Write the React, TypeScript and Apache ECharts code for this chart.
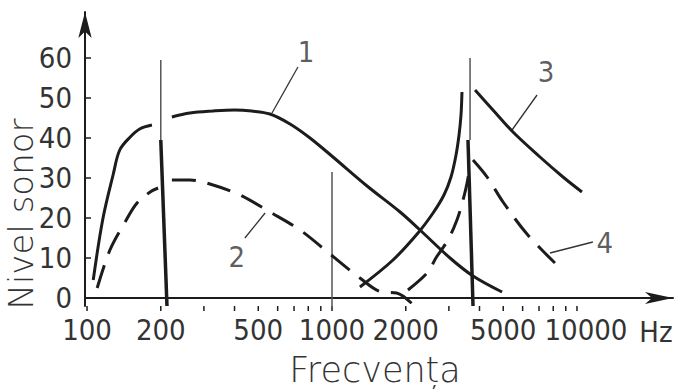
import React, { useEffect, useRef } from 'react';
import * as echarts from 'echarts';

// ---- axis ticks / labels (Hz, level) ----
const xTickValues = [100, 200, 300, 400, 500, 600, 700, 800, 900, 1000, 2000, 3000, 4000, 5000, 6000, 7000, 8000, 9000, 10000];
const xLabelValues = [100, 200, 500, 1000, 2000, 5000, 10000];
const yLabelValues = [0, 10, 20, 30, 40, 50, 60];
const yTickValues = [10, 20, 30, 40, 50, 60];
const xRangeHz = [98.1, 24660];
const yRange = [-2, 71.5];

// ---- curve 1 (solid) ----
const curve1Freq = [106, 116, 128, 136, 150, 164, 184, 200, 222, 263, 327, 400, 470, 558, 674, 813, 1009, 1390, 1896, 2287, 3032, 3764, 4946];
const curve1Level = [4.5, 19.75, 31, 37, 40.25, 42.25, 43.25, null, 45.25, 46.25, 46.75, 47, 46.75, 46, 43.5, 40, 35.25, 28, 21.5, 17, 10, 5.5, 1.5];

// ---- curve 2 (dashed) ----
const curve2Freq = [110, 124, 143, 160, 181, 195, 200, 222, 263, 327, 421, 558, 740, 981, 1300, 1600, 1836, 2127];
const curve2Level = [2.5, 12, 19, 23.75, 26.5, 27.5, null, 29.5, 29.5, 28.25, 25.75, 21.5, 17, 11, 5, 1.5, 1.25, -1.5];

// ---- curve 3 (solid) ----
const curve3Freq = [1300, 1774, 2244, 2585, 2864, 3060, 3208, 3300, 3362, 3393, 3600, 3837, 4540, 5480, 7063, 8770, 10480];
const curve3Level = [2.75, 9.5, 16.25, 21.25, 25.75, 30.25, 35.75, 40.75, 45.75, 51.5, null, 52, 47, 41.5, 35.25, 30.25, 26.5];

// ---- curve 4 (dashed) ----
const curve4Freq = [2042, 2466, 2655, 2972, 3236, 3426, 3559, 3660, 3700, 3763, 4295, 4991, 6252, 8131];
const curve4Level = [2, 6.5, 10, 14.5, 19.5, 24.5, 28.75, 33.25, null, 34.5, 30.25, 24, 16, 8.75];

// ---- vertical reference lines ----
const thinLineFreq = [[200, 200], [1000, 1000], [3660, 3660]];
const thinLineLevel = [[39.5, 59.5], [-2, 31.5], [39.5, 60]];
const thickLineFreq = [[200, 212], [3590, 3764]];
const thickLineLevel = [[39.5, -2], [39.5, -2]];

// ---- curve labels with leader lines ----
const labelText = ['1', '2', '3', '4'];
const labelFreq = [783, 409, 7470, 13000];
const labelLevel = [61.5, 10.25, 56.5, 13.75];
const leaderFromFreq = [726, 441, 6870, 11610];
const leaderFromLevel = [57.75, 15, 50.75, 14];
const leaderToFreq = [569, 533, 5430, 7760];
const leaderToLevel = [46.25, 21.25, 42, 11.25];

const INK = '#1c1c1c';
const TEXT = '#333333';
const DIGIT_FONT = "'Liberation Sans Narrow', 'DejaVu Sans Condensed', sans-serif";
const WORD_FONT = "'DejaVu Sans', sans-serif";
const LAST_LABEL_NUDGE = 9; // the hand-lettered "10000" sits right of its tick

const lg = (f: number) => Math.log10(f);
const pairs = (fs: number[], ls: (number | null)[]) =>
  fs.map((f, i) => [lg(f), ls[i] === null ? '-' : ls[i]]);

export default function App() {
  const ref = useRef<HTMLDivElement>(null);

  useEffect(() => {
    if (!ref.current) return;
    const chart = echarts.init(ref.current, undefined, { renderer: 'svg' });

    const curveSeries = (name: string, fs: number[], ls: (number | null)[], dashed: boolean) => ({
      name,
      type: 'line',
      data: pairs(fs, ls),
      symbol: 'none',
      smooth: 0.35,
      connectNulls: false,
      silent: true,
      lineStyle: { color: INK, width: 3, type: dashed ? [24, 12] : 'solid', cap: 'butt' },
      z: 3,
    });

    const series: any[] = [
      curveSeries('1', curve1Freq, curve1Level, false),
      curveSeries('2', curve2Freq, curve2Level, true),
      curveSeries('3', curve3Freq, curve3Level, false),
      curveSeries('4', curve4Freq, curve4Level, true),
    ];

    thinLineFreq.forEach((fs, i) => {
      series.push({
        type: 'line',
        data: pairs(fs, thinLineLevel[i]),
        symbol: 'none',
        silent: true,
        lineStyle: { color: '#555', width: 1.5 },
        z: 2,
      });
    });
    thickLineFreq.forEach((fs, i) => {
      series.push({
        type: 'line',
        data: pairs(fs, thickLineLevel[i]),
        symbol: 'none',
        silent: true,
        lineStyle: { color: INK, width: 3.5 },
        z: 2,
      });
    });
    labelText.forEach((_, i) => {
      series.push({
        type: 'line',
        data: [[lg(leaderFromFreq[i]), leaderFromLevel[i]], [lg(leaderToFreq[i]), leaderToLevel[i]]],
        symbol: 'none',
        silent: true,
        lineStyle: { color: '#333', width: 1.3 },
        z: 2,
      });
    });
    series.push({
      type: 'scatter',
      silent: true,
      symbolSize: 1,
      itemStyle: { color: 'rgba(0,0,0,0)' },
      data: labelText.map((t, i) => ({ name: t, value: [lg(labelFreq[i]), labelLevel[i]] })),
      label: {
        show: true,
        position: 'inside',
        formatter: '{b}',
        fontFamily: DIGIT_FONT,
        fontSize: 29,
        color: TEXT,
      },
      z: 4,
    });
    // x-axis tick marks (log positions) drawn through the axis scale
    series.push({
      type: 'custom',
      silent: true,
      clip: false,
      data: xTickValues.map((f) => [lg(f), yRange[0]]),
      renderItem: (_p: any, api: any) => {
        const c = api.coord([api.value(0), api.value(1)]);
        return {
          type: 'line',
          shape: { x1: c[0], y1: c[1], x2: c[0], y2: c[1] + 5 },
          style: { stroke: INK, lineWidth: 1.5 },
        };
      },
      z: 5,
    });
    // x-axis tick labels (log positions)
    series.push({
      type: 'custom',
      silent: true,
      clip: false,
      data: xLabelValues.map((f) => [lg(f), yRange[0]]),
      renderItem: (p: any, api: any) => {
        const c = api.coord([api.value(0), api.value(1)]);
        const nudge = p.dataIndex === xLabelValues.length - 1 ? LAST_LABEL_NUDGE : 0;
        return {
          type: 'text',
          x: c[0] + nudge,
          y: c[1] + 9,
          style: {
            text: String(xLabelValues[p.dataIndex]),
            fontFamily: DIGIT_FONT,
            fontSize: 29,
            fill: TEXT,
            align: 'center',
            verticalAlign: 'top',
          },
        };
      },
      z: 5,
    });
    // y-axis tick marks (inside)
    series.push({
      type: 'custom',
      silent: true,
      clip: false,
      data: yTickValues.map((v) => [lg(xRangeHz[0]), v]),
      renderItem: (_p: any, api: any) => {
        const c = api.coord([api.value(0), api.value(1)]);
        return {
          type: 'line',
          shape: { x1: c[0], y1: c[1], x2: c[0] + 6, y2: c[1] },
          style: { stroke: INK, lineWidth: 1.5 },
        };
      },
      z: 5,
    });

    chart.setOption({
      animation: false,
      backgroundColor: '#ffffff',
      grid: { left: 85, right: 4, top: 12, bottom: 83, containLabel: false },
      xAxis: {
        type: 'value',
        min: lg(xRangeHz[0]),
        max: lg(xRangeHz[1]),
        axisLine: {
          show: true,
          lineStyle: { color: INK, width: 2 },
          symbol: ['none', 'arrow'],
          symbolSize: [9, 28],
        },
        axisTick: { show: false },
        splitLine: { show: false },
        axisLabel: { show: false },
      },
      yAxis: {
        type: 'value',
        min: yRange[0],
        max: yRange[1],
        axisLine: {
          show: true,
          lineStyle: { color: INK, width: 2 },
          symbol: ['none', 'arrow'],
          symbolSize: [10, 26],
        },
        axisTick: { show: false },
        splitLine: { show: false },
        axisLabel: {
          customValues: yLabelValues,
          hideOverlap: false,
          margin: 13,
          fontFamily: DIGIT_FONT,
          fontSize: 29,
          color: TEXT,
        },
      },
      graphic: [
        {
          type: 'text',
          x: 656,
          y: 332,
          style: { text: 'Hz', fontFamily: DIGIT_FONT, fontSize: 29, fill: TEXT, align: 'center', verticalAlign: 'middle' },
        },
        {
          type: 'text',
          x: 375,
          y: 370,
          style: { text: 'Frecvența', fontFamily: WORD_FONT, fontWeight: 200, fontSize: 35, fill: TEXT, align: 'center', verticalAlign: 'middle' },
        },
        {
          type: 'text',
          x: 21,
          y: 214,
          rotation: Math.PI / 2,
          style: { text: 'Nivel sonor', fontFamily: WORD_FONT, fontWeight: 200, fontSize: 34, fill: TEXT, align: 'center', verticalAlign: 'middle' },
        },
      ],
      series,
    });

    return () => chart.dispose();
  }, []);

  return <div ref={ref} style={{ width: 677, height: 389, position: 'absolute', left: 0, top: 0 }} />;
}
